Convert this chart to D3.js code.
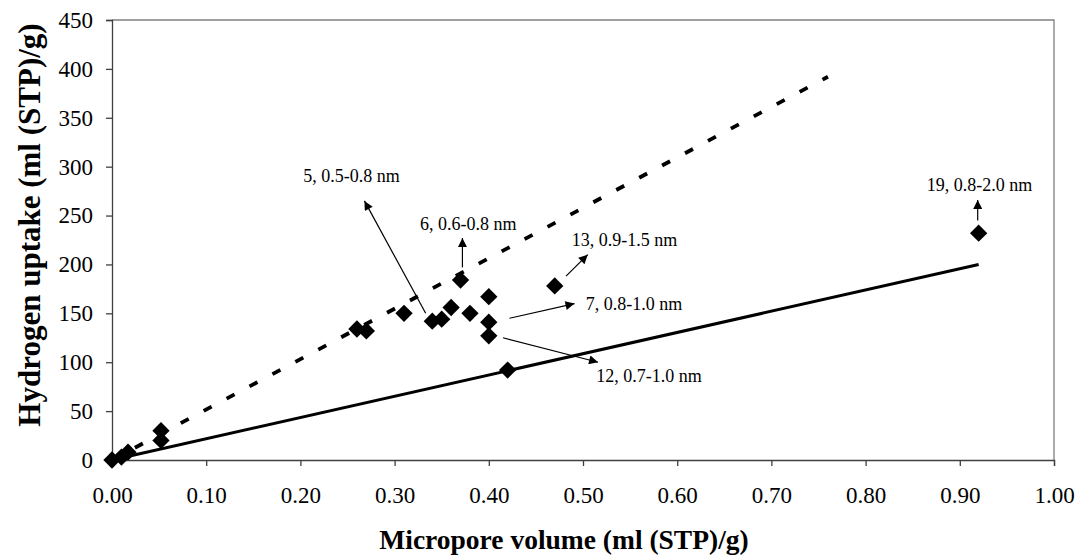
<!DOCTYPE html>
<html lang="en">
<head>
    <meta charset="UTF-8">
    <title>Hydrogen uptake vs micropore volume</title>
    <script src="https://d3js.org/d3.v7.min.js"></script>
    <style>
        body {
            margin: 0;
            background: #fff;
        }
        svg text {
            font-family: "Liberation Serif", "Times New Roman", serif;
            fill: #000;
        }
        .tick text {
            font-size: 23px;
        }
        .axis-title {
            font-weight: bold;
        }
        .note {
            font-size: 18px;
        }
    </style>
</head>
<body>
    <svg id="chart"></svg>

    <script>
        // measured samples: micropore volume vs hydrogen uptake
        const volume = [0, 0.01, 0.017, 0.052, 0.052, 0.26, 0.27, 0.31, 0.34, 0.35, 0.36, 0.37, 0.38, 0.40, 0.40, 0.40, 0.42, 0.47, 0.92];
        const uptake = [0, 3, 8, 30, 20, 134, 132, 150, 142, 144, 156, 184, 150, 167, 141, 127, 92, 178, 232];

        // the two reference lines (end points)
        const solidLineX = [0, 0.92];
        const solidLineY = [0, 200];
        const dashedLineX = [0, 0.76];
        const dashedLineY = [0, 392];

        // annotations: label, text anchor point, arrow from -> to (all in data units)
        const noteLabels = ["5, 0.5-0.8 nm", "6, 0.6-0.8 nm", "13, 0.9-1.5 nm", "7, 0.8-1.0 nm", "12, 0.7-1.0 nm", "19, 0.8-2.0 nm"];
        const noteTextX = [0.203, 0.327, 0.488, 0.503, 0.514, 0.865];
        const noteTextY = [284, 235, 219, 153, 80, 275];
        const arrowFromX = [0.333, 0.372, 0.482, 0.422, 0.415, 0.919];
        const arrowFromY = [150, 197, 188, 145, 125, 245];
        const arrowToX = [0.268, 0.372, 0.505, 0.491, 0.516, 0.919];
        const arrowToY = [265, 227, 210, 160, 100, 266];

        const xTicks = [0, 0.1, 0.2, 0.3, 0.4, 0.5, 0.6, 0.7, 0.8, 0.9, 1.0];
        const yTicks = [0, 50, 100, 150, 200, 250, 300, 350, 400, 450];

        const width = 1077;
        const height = 559;
        const margin = {top: 20, right: 23, bottom: 99, left: 112};
        const serif = "'Liberation Serif', 'Times New Roman', serif";

        const svg = d3.select("#chart")
            .attr("width", width)
            .attr("height", height);

        const x = d3.scaleLinear().domain([0, 1]).range([margin.left, width - margin.right]);
        const y = d3.scaleLinear().domain([0, 450]).range([height - margin.bottom, margin.top]);

        // arrow head
        svg.append("defs").append("marker")
            .attr("id", "head")
            .attr("viewBox", "0 0 10 10")
            .attr("refX", 10)
            .attr("refY", 5)
            .attr("markerUnits", "userSpaceOnUse")
            .attr("markerWidth", 11)
            .attr("markerHeight", 9)
            .attr("orient", "auto")
            .append("path")
            .attr("d", "M0,0L10,5L0,10Z")
            .attr("fill", "#000");

        // plot frame (top and right)
        svg.append("path")
            .attr("d", `M${x(0)},${y(450)}H${x(1)}V${y(0)}`)
            .attr("fill", "none")
            .attr("stroke", "#808080")
            .attr("stroke-width", 1.3);

        // axes
        svg.append("g")
            .attr("transform", `translate(0,${y(0)})`)
            .call(d3.axisBottom(x).tickValues(xTicks).tickFormat(d3.format(".2f")).tickSize(6).tickPadding(21))
            .attr("font-family", serif)
            .call(g => g.select(".domain").attr("stroke", "#404040").attr("stroke-width", 1.3))
            .call(g => g.selectAll(".tick line").attr("stroke", "#404040").attr("stroke-width", 1.3));

        svg.append("g")
            .attr("transform", `translate(${x(0)},0)`)
            .call(d3.axisLeft(y).tickValues(yTicks).tickSize(6).tickPadding(13))
            .attr("font-family", serif)
            .call(g => g.select(".domain").attr("stroke", "#404040").attr("stroke-width", 1.3))
            .call(g => g.selectAll(".tick line").attr("stroke", "#404040").attr("stroke-width", 1.3));

        // reference lines
        const line = d3.line().x(d => x(d[0])).y(d => y(d[1]));

        svg.append("path")
            .datum(d3.zip(dashedLineX, dashedLineY))
            .attr("d", line)
            .attr("fill", "none")
            .attr("stroke", "#000")
            .attr("stroke-width", 3.8)
            .attr("stroke-dasharray", "9,17");

        svg.append("path")
            .datum(d3.zip(solidLineX, solidLineY))
            .attr("d", line)
            .attr("fill", "none")
            .attr("stroke", "#000")
            .attr("stroke-width", 3);

        // data points as diamonds
        const diamond = d3.symbol(d3.symbolSquare, 150);
        svg.append("g")
            .selectAll("path")
            .data(d3.zip(volume, uptake))
            .enter().append("path")
            .attr("d", diamond)
            .attr("transform", d => `translate(${x(d[0])},${y(d[1])}) rotate(45)`)
            .attr("fill", "#000");

        // annotation arrows and labels
        svg.append("g")
            .selectAll("line")
            .data(noteLabels.map((d, i) => i))
            .enter().append("line")
            .attr("x1", i => x(arrowFromX[i]))
            .attr("y1", i => y(arrowFromY[i]))
            .attr("x2", i => x(arrowToX[i]))
            .attr("y2", i => y(arrowToY[i]))
            .attr("stroke", "#000")
            .attr("stroke-width", 1.2)
            .attr("marker-end", "url(#head)");

        svg.append("g")
            .selectAll("text")
            .data(noteLabels)
            .enter().append("text")
            .attr("class", "note")
            .attr("x", (d, i) => x(noteTextX[i]))
            .attr("y", (d, i) => y(noteTextY[i]))
            .text(d => d);

        // axis titles
        svg.append("text")
            .attr("class", "axis-title")
            .attr("x", 564)
            .attr("y", 549)
            .attr("text-anchor", "middle")
            .style("font-size", "27.5px")
            .text("Micropore volume (ml (STP)/g)");

        svg.append("text")
            .attr("class", "axis-title")
            .attr("transform", "translate(40,225) rotate(-90)")
            .attr("text-anchor", "middle")
            .style("font-size", "31px")
            .text("Hydrogen uptake (ml (STP)/g)");
    </script>
</body>
</html>
